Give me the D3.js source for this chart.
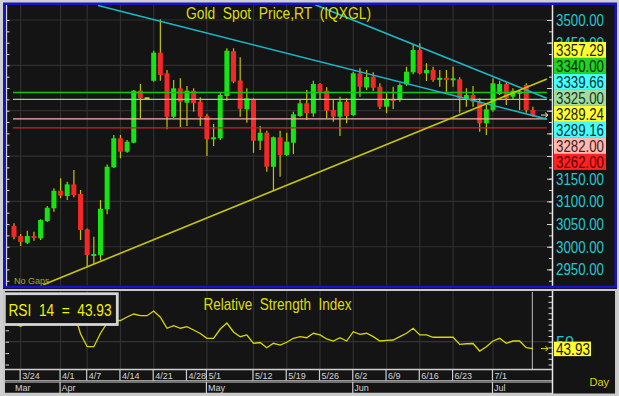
<!DOCTYPE html>
<html><head><meta charset="utf-8">
<script src="https://cdn.jsdelivr.net/npm/d3@7"></script>
<style>
html,body{margin:0;padding:0;background:#d0d0d0;}
svg{display:block;}
text{font-family:"Liberation Sans Narrow","Arial Narrow","Liberation Sans",Arial,sans-serif;white-space:pre;}
</style></head><body>
<svg id="c" width="619" height="396"></svg>
<script>
// ---------------- DATA ----------------
const dates = ["3/21","3/24","3/25","3/26","3/27","3/28","3/31","4/1","4/2","4/3","4/4","4/7","4/8","4/9","4/10","4/11","4/14","4/15","4/16","4/17","4/18","4/21","4/22","4/23","4/24","4/25","4/28","4/29","4/30","5/1","5/2","5/5","5/6","5/7","5/8","5/9","5/12","5/13","5/14","5/15","5/16","5/19","5/20","5/21","5/22","5/23","5/26","5/27","5/28","5/29","5/30","6/2","6/3","6/4","6/5","6/6","6/9","6/10","6/11","6/12","6/13","6/16","6/17","6/18","6/19","6/20","6/23","6/24","6/25","6/26","6/27","6/30","7/1","7/2","7/3","7/4","7/7","7/8","7/9"];
const openP = [3045.6,3023.6,3008.8,3023.6,3018.5,3056.7,3084.7,3123.5,3111.8,3137.6,3116.2,3038.4,2981.0,2981.7,3082.5,3175.1,3239.1,3209.5,3229.4,3344.1,3327.3,3366.1,3427.9,3382.4,3286.7,3349.4,3317.6,3344.1,3319.8,3288.3,3236.9,3239.1,3332.4,3431.2,3366.6,3303.0,3325.1,3233.8,3251.4,3176.4,3241.3,3202.2,3229.4,3288.3,3316.3,3294.2,3358.8,3344.1,3301.5,3286.7,3319.8,3290.5,3382.4,3351.1,3374.9,3352.9,3308.8,3325.8,3323.6,3358.2,3384.6,3433.8,3382.4,3389.7,3367.7,3372.7,3367.0,3369.2,3323.6,3334.6,3319.8,3272.2,3301.5,3336.8,3358.8,3330.8,3340.0,3356.6,3301.5];
const highP = [3051.5,3028.0,3035.3,3033.1,3060.4,3089.8,3128.8,3150.9,3143.4,3169.2,3125.0,3040.0,3022.0,3103.0,3181.3,3246.4,3246.4,3235.3,3345.6,3358.8,3328.6,3432.3,3501.5,3389.7,3367.7,3371.4,3354.4,3349.4,3329.5,3292.7,3270.6,3339.7,3437.6,3437.6,3417.7,3349.4,3327.3,3266.2,3255.8,3243.0,3255.8,3251.4,3297.8,3323.6,3345.6,3366.1,3360.4,3351.6,3323.6,3330.8,3327.3,3386.0,3393.5,3389.7,3384.6,3360.4,3338.3,3352.9,3360.4,3397.0,3446.4,3448.6,3404.5,3397.0,3389.7,3389.7,3397.0,3373.6,3349.4,3354.4,3327.3,3312.5,3371.4,3366.1,3362.6,3349.4,3345.6,3360.4,3308.8];
const lowP = [3016.3,3001.6,3005.9,3013.2,3014.8,3054.5,3077.2,3106.7,3103.0,3108.9,3014.8,2957.4,2961.8,2969.6,3071.5,3173.6,3195.0,3207.3,3228.0,3283.2,3325.8,3363.9,3366.1,3258.9,3283.2,3263.3,3266.2,3297.8,3266.2,3200.0,3222.1,3235.3,3322.0,3360.4,3286.7,3273.5,3207.3,3213.3,3165.4,3122.8,3154.4,3200.0,3204.4,3286.7,3279.4,3286.7,3325.1,3283.2,3275.7,3244.2,3272.2,3288.3,3330.8,3345.6,3343.4,3303.7,3294.2,3303.7,3319.8,3355.1,3380.2,3380.2,3365.5,3363.9,3352.9,3341.9,3352.9,3295.5,3308.8,3308.8,3253.6,3246.4,3297.8,3334.6,3312.5,3323.6,3301.5,3295.5,3286.7];
const closeP = [3022.0,3010.4,3023.6,3019.8,3058.9,3086.0,3123.5,3112.5,3137.6,3114.0,3036.8,2981.7,2983.9,3083.8,3176.4,3239.1,3209.5,3231.6,3344.1,3327.3,3327.3,3427.9,3378.7,3286.7,3349.4,3319.8,3344.1,3316.3,3286.7,3236.9,3241.3,3334.6,3432.3,3363.9,3304.1,3327.3,3233.8,3251.4,3176.4,3241.3,3202.2,3231.6,3292.0,3316.3,3294.2,3358.8,3341.9,3300.0,3286.7,3319.8,3288.3,3382.4,3352.9,3374.3,3350.7,3308.8,3323.6,3321.4,3356.6,3386.0,3433.8,3382.4,3389.7,3367.7,3372.7,3367.7,3371.4,3327.3,3334.6,3319.8,3272.2,3303.0,3360.4,3358.8,3327.3,3344.1,3340.0,3301.5,3289.24];
const rsiValues = [66,63.5,66.5,66,70,73,77,75,76.5,76,57,45.6,45.6,57.4,66.4,68.2,68.6,71.7,74.3,72.8,72.8,76.9,71.5,61.8,64.0,61.8,63.2,60.3,57.2,53.0,53.0,61.1,66.4,58.5,54.4,55.9,48.6,49.3,44.7,48.6,47.1,49.5,53.0,54.4,53.5,57.4,55.9,52.4,50.6,53.5,50.6,58.8,56.5,57.4,54.4,50.6,51.1,51.5,54.4,57.4,61.8,55.9,55.9,53.9,53.9,53.9,53.9,47.7,48.2,48.4,41.8,45.6,50.6,53.0,48.6,50.6,50.6,44.7,43.93];

const priceTickLabels = [2950,3000,3050,3100,3150,3200,3250,3300,3350,3400,3450,3500];
const priceGrid = [3000,3100,3200,3300,3400,3500];
const weekLabels = ["3/24","4/1","4/7","4/14","4/21","4/28","5/1","5/12","5/19","5/26","6/2","6/9","6/16","6/23","7/1"];
const gridDates = ["3/24","4/1","4/7","4/14","4/21","5/1","5/12","5/19","5/26","6/2","6/9","6/16","6/23","7/1"];
const monthLabels = ["Mar","Apr","May","Jun","Jul"];
const monthStarts = ["3/21","4/1","5/1","6/2","7/1"];

const levelValues = [3340, 3325, 3282, 3262];
const levelColors = ["#10c810","#8fd88f","#f4b4b0","#d42020"];

const markerValues = [3357.29, 3340.00, 3339.66, 3325.00, 3289.24, 3289.16, 3282.00, 3262.00];
const markerFills  = ["#ffff33","#22d422","#44ffff","#a0dca0","#ffff33","#44ffff","#ffb8b0","#ff2222"];
const markerInk    = ["#222200","#002800","#003030","#1c301c","#222200","#003030","#402020","#5a0000"];

// trend lines: start/end in bar-index units and prices
const trendStartBar   = [12.63, 45.25, 4.4];
const trendStartPrice = [3532.0, 3533.8, 2916.1];
const trendEndBar     = [80.1, 80.1, 80.1];
const trendEndPrice   = [3281.4, 3327.2, 3369.9];
const trendColors     = ["#1ab8c8","#1ab8c8","#c8c800"];

const rsiLast = 43.93;

// ---------------- SCALES ----------------
const svg = d3.select("#c");
const x = d3.scalePoint().domain(dates).range([14, 532.9]);
const xb = d3.scaleLinear().domain([0, dates.length - 1]).range([14, 532.9]);
const y = d3.scaleLinear().domain([2950, 3500]).range([269.4, 20]);
const yr = d3.scaleLinear().domain([30, 90]).range([364.5, 296.1]);

svg.append("rect").attr("width",619).attr("height",396).attr("fill","#d0d0d0");
svg.append("rect").attr("x",3).attr("y",3).attr("width",614).attr("height",392).attr("fill","#141414");

const defs = svg.append("defs");
defs.append("clipPath").attr("id","cm").append("rect").attr("x",7).attr("y",5).attr("width",545).attr("height",280.5);
defs.append("clipPath").attr("id","cr").append("rect").attr("x",6).attr("y",291).attr("width",546).attr("height",78);

// ---------------- MAIN PANEL ----------------
const gm = svg.append("g").attr("clip-path","url(#cm)");
gm.selectAll(".hg").data(priceGrid).join("line")
  .attr("x1",7).attr("x2",552).attr("y1",d=>y(d)).attr("y2",d=>y(d))
  .attr("stroke","#2f2f2f").attr("stroke-width",1.2);
gm.selectAll(".vg").data(gridDates).join("line")
  .attr("x1",d=>x(d)).attr("x2",d=>x(d)).attr("y1",5).attr("y2",286)
  .attr("stroke","#2f2f2f").attr("stroke-width",1.2);

const idx = d3.range(dates.length);
gm.selectAll(".wick").data(idx).join("line")
  .attr("x1",i=>x(dates[i])).attr("x2",i=>x(dates[i]))
  .attr("y1",i=>y(highP[i])).attr("y2",i=>y(lowP[i]))
  .attr("stroke","#c4c400").attr("stroke-width",1.2);
gm.selectAll(".body").data(idx).join("rect")
  .attr("x",i=>x(dates[i])-2.5).attr("width",5)
  .attr("y",i=>Math.min(y(openP[i]),y(closeP[i])) - (openP[i]===closeP[i]?1:0))
  .attr("height",i=>Math.max(2,Math.abs(y(openP[i])-y(closeP[i]))))
  .attr("fill",i=>closeP[i]>openP[i]?"#14e614":(closeP[i]<openP[i]?"#f52828":"#d8d800"));

gm.selectAll(".lvl").data(levelValues).join("line")
  .attr("x1",xb(-0.15)).attr("x2",xb(80.1)).attr("y1",d=>y(d)).attr("y2",d=>y(d))
  .attr("stroke",(d,i)=>levelColors[i]).attr("stroke-width",1.4);

gm.selectAll(".tr").data(trendStartBar).join("line")
  .attr("x1",(d,i)=>xb(trendStartBar[i])).attr("y1",(d,i)=>y(trendStartPrice[i]))
  .attr("x2",(d,i)=>xb(trendEndBar[i])).attr("y2",(d,i)=>y(trendEndPrice[i]))
  .attr("stroke",(d,i)=>trendColors[i]).attr("stroke-width",1.6);

// last price arrow
const lastY = y(closeP[closeP.length-1]);
svg.append("path").attr("d",`M541,${lastY-0.5}H548M545,${lastY-3}L548,${lastY-0.5}L545,${lastY+2}`)
  .attr("stroke","#f0f0b0").attr("fill","none").attr("stroke-width",1);

// title
svg.append("text").attr("x",186).attr("y",19).attr("font-size",17).attr("fill","#dede00")
  .attr("textLength",185).attr("lengthAdjust","spacingAndGlyphs").text("Gold  Spot  Price,RT  (IQXGL)");
svg.append("text").attr("x",14).attr("y",284).attr("font-size",9).attr("fill","#a8a820").text("No Gaps");

// left axis ticks
svg.append("line").attr("x1",6.5).attr("x2",6.5).attr("y1",5).attr("y2",286).attr("stroke","#d8d8d8").attr("stroke-width",1.3);
const la = svg.append("g").attr("transform","translate(6.5,0)")
  .call(d3.axisRight(y).tickValues(d3.range(2925,3501,25)).tickSize(3).tickFormat(""));
la.select(".domain").remove(); la.selectAll("line").attr("stroke","#d8d8d8");

// right axis
svg.append("line").attr("x1",552.5).attr("x2",552.5).attr("y1",5).attr("y2",287).attr("stroke","#e8e8e8").attr("stroke-width",1.5);
const ra = svg.append("g").attr("transform","translate(552,0)")
  .call(d3.axisLeft(y).tickValues(d3.range(2925,3501,25)).tickSize(3).tickFormat(""));
ra.select(".domain").remove(); ra.selectAll("line").attr("stroke","#d8d8d8");
const ra2 = svg.append("g").attr("transform","translate(552,0)")
  .call(d3.axisLeft(y).tickValues(priceTickLabels).tickSize(5).tickFormat(""));
ra2.select(".domain").remove(); ra2.selectAll("line").attr("stroke","#d8d8d8");

// value marker stack layout (centered on the mean of the ideal positions)
const boxH = 16;
const meanY = d3.mean(markerValues, v=>y(v));
const top0 = meanY - boxH*markerValues.length/2;
const bottom0 = top0 + boxH*markerValues.length;

// tick labels, hidden where the marker stack covers them
svg.selectAll(".ptl").data(priceTickLabels.filter(d => y(d) < top0 + 2 || y(d) > bottom0 + 5)).join("text")
  .attr("x",556).attr("y",d=>y(d)+6).attr("font-size",16).attr("fill","#22c8d0")
  .attr("textLength",48).attr("lengthAdjust","spacingAndGlyphs").text(d=>d3.format(".2f")(d));

const mk = svg.selectAll(".mk").data(markerValues).join("g")
  .attr("transform",(d,i)=>`translate(554,${top0 + i*boxH})`);
mk.append("rect").attr("width",52).attr("height",boxH).attr("fill",(d,i)=>markerFills[i]);
mk.append("text").attr("x",2).attr("y",boxH/2+6).attr("font-size",16).attr("fill",(d,i)=>markerInk[i])
  .attr("textLength",48).attr("lengthAdjust","spacingAndGlyphs").text(d=>d3.format(".2f")(d));

// main blue frame
svg.append("rect").attr("x",4.25).attr("y",3.75).attr("width",611.5).attr("height",283.25)
  .attr("fill","none").attr("stroke","#1414c8").attr("stroke-width",2.5);

// ---------------- RSI PANEL ----------------
const gr = svg.append("g").attr("clip-path","url(#cr)");
gr.selectAll(".vg").data(gridDates).join("line")
  .attr("x1",d=>x(d)).attr("x2",d=>x(d)).attr("y1",291).attr("y2",369)
  .attr("stroke","#2f2f2f").attr("stroke-width",1.2);
gr.append("line").attr("x1",6).attr("x2",552).attr("y1",yr(50)).attr("y2",yr(50)).attr("stroke","#353535").attr("stroke-width",1.2);
gr.append("line").attr("x1",x(dates[dates.length-1])-0.5).attr("x2",x(dates[dates.length-1])-0.5)
  .attr("y1",292).attr("y2",369).attr("stroke","#a0a0a0").attr("stroke-width",1.2);
gr.append("path").datum(rsiValues)
  .attr("d",d3.line().x((d,i)=>x(dates[i])).y(d=>yr(d)))
  .attr("fill","none").attr("stroke","#d8d800").attr("stroke-width",1.3);

const rl = svg.append("g").attr("transform","translate(5.5,0)")
  .call(d3.axisRight(yr).tickValues([30,40,50,60,70,80]).tickSize(3.5).tickFormat(""));
rl.select(".domain").remove(); rl.selectAll("line").attr("stroke","#d8d8d8");
const rr = svg.append("g").attr("transform","translate(552,0)")
  .call(d3.axisLeft(yr).tickValues(d3.range(30,91,5)).tickSize(3.5).tickFormat(""));
rr.select(".domain").remove(); rr.selectAll("line").attr("stroke","#d8d8d8");

// RSI box
svg.append("rect").attr("x",4.3).attr("y",293.7).attr("width",113).attr("height",30.8)
  .attr("fill","#141414").attr("stroke","#d4d4d4").attr("stroke-width",2.8);
svg.append("text").attr("x",8.5).attr("y",315.5).attr("font-size",17).attr("fill","#f0f000")
  .attr("textLength",103).attr("lengthAdjust","spacingAndGlyphs").text("RSI  14  =  " + d3.format(".2f")(rsiLast));
svg.append("text").attr("x",203.5).attr("y",310).attr("font-size",17).attr("fill","#dede00")
  .attr("textLength",148).attr("lengthAdjust","spacingAndGlyphs").text("Relative  Strength  Index");

// RSI arrow + labels
const rY = yr(rsiLast);
svg.append("path").attr("d",`M541,${rY}H548M545.5,${rY-2.5}L548,${rY}L545.5,${rY+2.5}`)
  .attr("stroke","#e8e800").attr("fill","none").attr("stroke-width",1);
svg.append("text").attr("x",556).attr("y",yr(50)+6).attr("font-size",16).attr("fill","#22c8d0").text("50");
svg.append("rect").attr("x",554).attr("y",rY-7).attr("width",37).attr("height",14.5).attr("fill","#ffff33");
svg.append("text").attr("x",556).attr("y",rY+6).attr("font-size",16).attr("fill","#1a1a00")
  .attr("textLength",34).attr("lengthAdjust","spacingAndGlyphs").text(d3.format(".2f")(rsiLast));

// ---------------- DATE AXIS ----------------
const axc = "#cfcfcf";
svg.append("line").attr("x1",5).attr("x2",552).attr("y1",369.5).attr("y2",369.5).attr("stroke",axc).attr("stroke-width",1.3);
svg.append("line").attr("x1",5).attr("x2",552).attr("y1",380.5).attr("y2",380.5).attr("stroke","#9a9a9a").attr("stroke-width",1);
svg.append("line").attr("x1",5).attr("x2",552).attr("y1",382).attr("y2",382).attr("stroke",axc).attr("stroke-width",1.2);
svg.append("line").attr("x1",5).attr("x2",552).attr("y1",393.5).attr("y2",393.5).attr("stroke",axc).attr("stroke-width",1.3);
svg.selectAll(".wsep").data(weekLabels).join("line")
  .attr("x1",d=>x(d)-0.5).attr("x2",d=>x(d)-0.5).attr("y1",369.5).attr("y2",380.5)
  .attr("stroke",axc).attr("stroke-width",1.2);
svg.selectAll(".wl").data(weekLabels).join("text")
  .attr("x",d=>x(d)+1.5).attr("y",379).attr("font-size",9).attr("fill","#d4d4d4").text(d=>d);
svg.selectAll(".msep").data(monthStarts.slice(1)).join("line")
  .attr("x1",d=>x(d)-0.5).attr("x2",d=>x(d)-0.5).attr("y1",382).attr("y2",393.5)
  .attr("stroke",axc).attr("stroke-width",1.2);
svg.selectAll(".ml").data(monthLabels).join("text")
  .attr("x",(d,i)=>x(monthStarts[i])+1).attr("y",391).attr("font-size",9).attr("fill","#d4d4d4").text(d=>d);
svg.append("text").attr("x",589.5).attr("y",385.5).attr("font-size",11).attr("fill","#d8d800").text("Day");

// lower frame & divider
svg.append("line").attr("x1",552.5).attr("x2",552.5).attr("y1",291).attr("y2",394).attr("stroke","#e8e8e8").attr("stroke-width",1.5);
svg.append("rect").attr("x",4).attr("y",290).attr("width",612).attr("height",104.5)
  .attr("fill","none").attr("stroke","#c8c8c8").attr("stroke-width",2);
</script>
</body></html>
